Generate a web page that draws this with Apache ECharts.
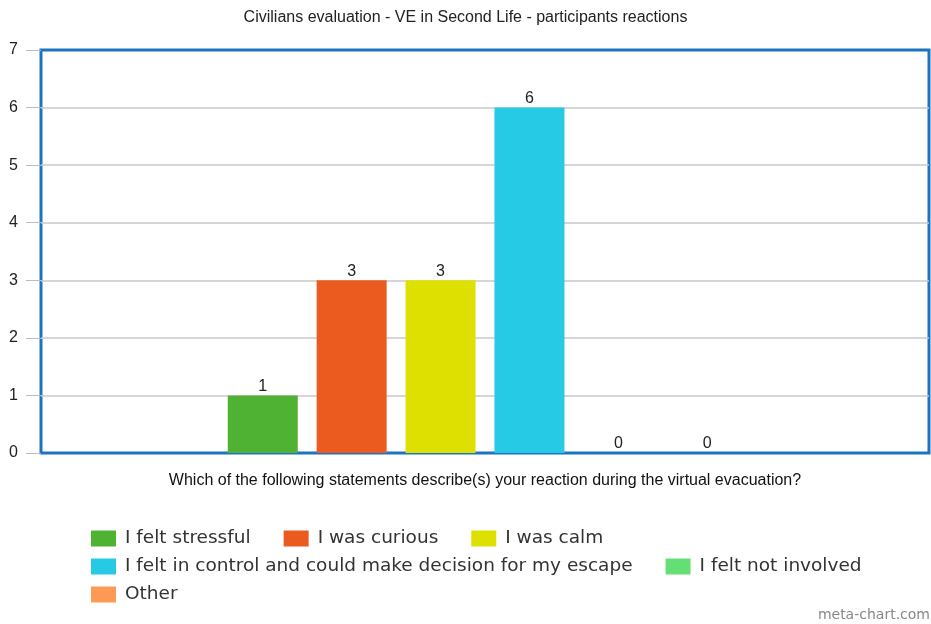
<!DOCTYPE html>
<html>
<head>
<meta charset="utf-8">
<script src="https://cdn.jsdelivr.net/npm/echarts@6/dist/echarts.min.js"></script>
<style>
  html, body { margin: 0; padding: 0; background: #fff; }
  #chart { width: 931px; height: 624px; }
</style>
</head>
<body>
<div id="chart"></div>
<script>
var seriesNames = ['I felt stressful', 'I was curious', 'I was calm',
  'I felt in control and could make decision for my escape', 'I felt not involved', 'Other'];
var seriesValues = [1, 3, 3, 6, 0, 0];
var seriesColors = ['#50b232', '#eb5a1f', '#dde000', '#27cae4', '#63df76', '#ff9a55'];
var categories = [''];
var yTicks = [0, 1, 2, 3, 4, 5, 6, 7];

var myChart = echarts.init(document.getElementById('chart'));

var series = seriesNames.map(function (name, i) {
  return {
    name: name,
    type: 'bar',
    data: [seriesValues[i]],
    barWidth: 70,
    barGap: '27%',
    itemStyle: { color: seriesColors[i] },
    label: {
      show: true,
      position: 'top',
      distance: 1,
      color: '#222',
      fontFamily: 'Liberation Sans',
      fontSize: 16
    }
  };
});

// one legend per row, like the original layout
function legendRow(names, top) {
  return {
    data: names,
    left: 91,
    top: top,
    padding: 0,
    itemWidth: 25,
    itemHeight: 16,
    itemGap: 33,
    icon: 'rect',
    selectedMode: false,
    textStyle: {
      fontFamily: 'DejaVu Sans',
      fontSize: 18.5,
      color: '#333',
      padding: [0, 0, 0, 4]
    }
  };
}

myChart.setOption({
  animation: false,
  title: {
    text: 'Civilians evaluation - VE in Second Life - participants reactions',
    left: 'center',
    top: 5,
    textStyle: { fontFamily: 'Liberation Sans', fontSize: 16, fontWeight: 'normal', color: '#222' }
  },
  legend: [
    legendRow(seriesNames.slice(0, 3), 529),
    legendRow(seriesNames.slice(3, 5), 557),
    legendRow(seriesNames.slice(5), 585)
  ],
  grid: {
    left: 41, right: 2, top: 50, bottom: 171,
    show: true,
    borderColor: '#1c73c0',
    borderWidth: 3,
    backgroundColor: 'transparent'
  },
  xAxis: {
    type: 'category',
    data: categories,
    name: 'Which of the following statements describe(s) your reaction during the virtual evacuation?',
    nameLocation: 'middle',
    nameGap: 20,
    nameTextStyle: { fontFamily: 'Liberation Sans', fontSize: 16, color: '#111' },
    axisLine: { show: false },
    axisTick: { show: false },
    axisLabel: { show: false }
  },
  yAxis: {
    type: 'value',
    min: yTicks[0],
    max: yTicks[yTicks.length - 1],
    interval: 1,
    axisLine: { show: false },
    axisTick: { show: true, length: 15, lineStyle: { color: '#bbb', width: 1 } },
    axisLabel: { margin: 23, fontFamily: 'Liberation Sans', fontSize: 16, color: '#222', padding: [4, 0, 0, 0] },
    splitLine: { showMinLine: false, showMaxLine: false, lineStyle: { color: '#c8c8c8', width: 1.5 } }
  },
  graphic: [{
    type: 'text',
    right: 1,
    bottom: 2,
    style: { text: 'meta-chart.com', fontFamily: 'DejaVu Sans', fontSize: 14, fill: '#888' }
  }],
  series: series
});
</script>
</body>
</html>
